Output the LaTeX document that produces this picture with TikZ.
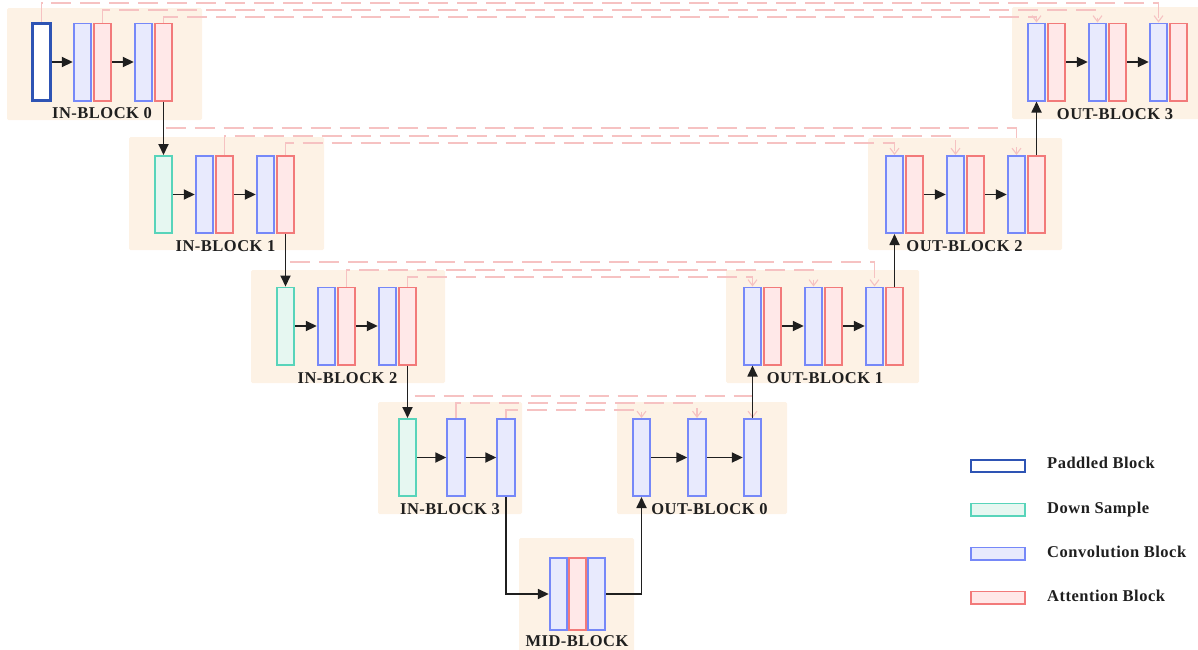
\documentclass[tikz,border=0pt]{standalone}
\usepackage{fontspec}
\setmainfont{Liberation Serif}
\newfontfamily\lblfont[LetterSpace=3]{Liberation Serif}
\usetikzlibrary{positioning, arrows.meta}

\definecolor{stagebg}{RGB}{253,242,229}
\definecolor{convfill}{RGB}{232,234,253}
\definecolor{convline}{RGB}{118,136,248}
\definecolor{attfill}{RGB}{255,232,232}
\definecolor{attline}{RGB}{242,122,122}
\definecolor{downfill}{RGB}{230,247,241}
\definecolor{downline}{RGB}{88,212,186}
\definecolor{padblue}{RGB}{46,84,180}
\definecolor{skippink}{RGB}{246,194,194}

\begin{document}
\begin{tikzpicture}[x=1pt, y=-1pt,
    blk/.style={draw, line width=1.8pt, minimum width=17.6pt, minimum height=77.2pt, inner sep=0pt},
    pad/.style={blk, draw=padblue, fill=white, line width=2.6pt},
    down/.style={blk, draw=downline, fill=downfill},
    conv/.style={blk, draw=convline, fill=convfill},
    att/.style={blk, draw=attline, fill=attfill},
    stage/.style={fill=stagebg, rounded corners=1.5pt},
    flow/.style={-{Triangle[length=11pt, width=10pt]}, line width=1.8pt, black!88},
    skip/.style={-{Straight Barb[length=6pt, width=9pt]}, draw=skippink, line width=1.1pt, dash pattern=on 20pt off 9pt},
    lbl/.style={font=\lblfont\bfseries\fontsize{16.5}{18}\selectfont, text=black!88, inner sep=0pt},
    lgd/.style={blk, minimum width=54.2pt, minimum height=12.2pt}]
    \useasboundingbox (0,0) rectangle (1198,649);

    % stage backgrounds
    \fill[stage] (7,8) rectangle (202,120);
    \fill[stage] (129,137) rectangle (324,250);
    \fill[stage] (251,270) rectangle (445,383);
    \fill[stage] (378,402) rectangle (522,514);
    \fill[stage] (519,538) rectangle (634,655);
    \fill[stage] (617,402) rectangle (787,514);
    \fill[stage] (726,270) rectangle (919,383);
    \fill[stage] (868,138) rectangle (1062,250);
    \fill[stage] (1012,7) rectangle (1200,119);

    % encoder side
    \node[pad] (In0P) at (41.5,62) {};
    \node[down] (In1D) at (163.5,194.5) {};
    \node[down] (In2D) at (285.5,326) {};
    \node[down] (In3D) at (407.5,457.5) {};
    \foreach \r/\x/\y in {0/41.5/62, 1/163.5/194.5, 2/285.5/326} {
        \node[conv] (In\r C1) at (\x+41,\y) {};
        \node[att] (In\r A1) at (\x+61,\y) {};
        \node[conv] (In\r C2) at (\x+102,\y) {};
        \node[att] (In\r A2) at (\x+122,\y) {};
    }
    \node[conv] (In3C1) at (456,457.5) {};
    \node[conv] (In3C2) at (506,457.5) {};

    % middle
    \node[conv, minimum height=72.2pt] (MidC1) at (558.5,594) {};
    \node[att, minimum height=72.2pt] (MidA) at (577.5,594) {};
    \node[conv, minimum height=72.2pt] (MidC2) at (596.5,594) {};

    % decoder side
    \node[conv] (Out0C1) at (641.5,457.5) {};
    \node[conv] (Out0C2) at (697,457.5) {};
    \node[conv] (Out0C3) at (752.5,457.5) {};
    \foreach \r/\x/\y in {1/752.5/326, 2/894.5/194.5, 3/1036.5/62} {
        \node[conv] (Out\r C1) at (\x,\y) {};
        \node[att] (Out\r A1) at (\x+20,\y) {};
        \node[conv] (Out\r C2) at (\x+61,\y) {};
        \node[att] (Out\r A2) at (\x+81,\y) {};
        \node[conv] (Out\r C3) at (\x+122,\y) {};
        \node[att] (Out\r A3) at (\x+142,\y) {};
    }

    % labels
    \node[lbl] (In0Lbl) at (102,113.5) {IN-BLOCK 0};
    \node[lbl] (In1Lbl) at (225.5,246) {IN-BLOCK 1};
    \node[lbl] (In2Lbl) at (347.5,378.5) {IN-BLOCK 2};
    \node[lbl] (In3Lbl) at (450,509) {IN-BLOCK 3};
    \node[lbl] (MidLbl) at (577,641.5) {MID-BLOCK};
    \node[lbl] (Out0Lbl) at (709.5,509) {OUT-BLOCK 0};
    \node[lbl] (Out1Lbl) at (825,378.5) {OUT-BLOCK 1};
    \node[lbl] (Out2Lbl) at (964.5,246) {OUT-BLOCK 2};
    \node[lbl] (Out3Lbl) at (1115,114) {OUT-BLOCK 3};

    % skip connections
    \foreach \a/\b/\h in {In0P/Out3C3/3, In0A1/Out3C2/10, In0A2/Out3C1/17,
                          In1D/Out2C3/128, In1A1/Out2C2/136, In1A2/Out2C1/143,
                          In2D/Out1C3/262, In2A1/Out1C2/270, In2A2/Out1C1/277,
                          In3D/Out0C3/396, In3C1/Out0C2/403, In3C2/Out0C1/410}
        \draw[skip] (\a.north) |- (\b.north |- 0,\h) -- (\b.north);

    % main flow
    \draw[flow] (In0P) -- (In0C1);
    \foreach \r in {0,1,2} \draw[flow] (In\r A1) -- (In\r C2);
    \foreach \r in {1,2,3} \draw[flow] (In\r D) -- (In\r C1);
    \draw[flow] (In3C1) -- (In3C2);
    \draw[flow] (In0A2) -- (In1D);
    \draw[flow] (In1A2) -- (In2D);
    \draw[flow] (In2A2) -- (In3D);
    \draw[flow] (In3C2) |- (MidC1);
    \draw[flow] (MidC2) -| (Out0C1);
    \draw[flow] (Out0C1) -- (Out0C2);
    \draw[flow] (Out0C2) -- (Out0C3);
    \foreach \r in {1,2,3} {
        \draw[flow] (Out\r A1) -- (Out\r C2);
        \draw[flow] (Out\r A2) -- (Out\r C3);
    }
    \draw[flow] (Out0C3) -- (Out1C1);
    \draw[flow] (Out1A3) -- (Out2C1);
    \draw[flow] (Out2A3) -- (Out3C1);

    % legend
    \node[lgd, draw=padblue, fill=white, line width=2.6pt] (LegPad) at (998,466) {};
    \node[lgd, draw=downline, fill=downfill] (LegDown) at (998,509.5) {};
    \node[lgd, draw=convline, fill=convfill] (LegConv) at (998,553.5) {};
    \node[lgd, draw=attline, fill=attfill] (LegAtt) at (998,597.5) {};
    \node[lbl, anchor=base west] (LegPadTxt) at (1047,468.5) {Paddled Block};
    \node[lbl, anchor=base west] (LegDownTxt) at (1047,513) {Down Sample};
    \node[lbl, anchor=base west] (LegConvTxt) at (1047,557) {Convolution Block};
    \node[lbl, anchor=base west] (LegAttTxt) at (1047,601) {Attention Block};
\end{tikzpicture}
\end{document}
